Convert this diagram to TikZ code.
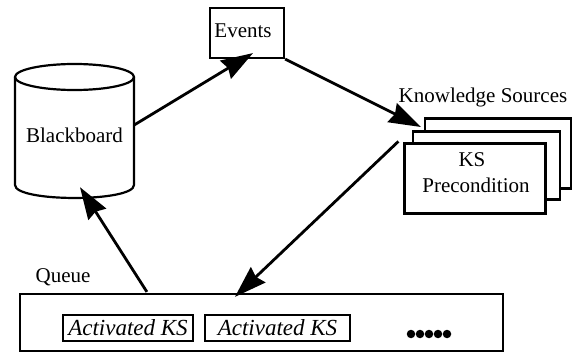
\documentclass[tikz,border=0pt]{standalone}
\usepackage{fontspec}
\setmainfont{Liberation Serif}
\usetikzlibrary{arrows.meta,calc}
\begin{document}
\begin{tikzpicture}[x=1pt,y=-1pt,
  txt/.style={inner sep=0pt, font=\fontsize{21}{23}\selectfont},
  boxline/.style={draw=black, line width=2.2pt},
  conn/.style={draw=black, line width=2.8pt, -{Stealth[length=32pt,width=21pt,inset=3pt]}},
  ksbox/.style={boxline, fill=white},
  actbox/.style={draw=black, line width=2pt, inner sep=0pt, minimum height=26pt,
    font=\fontsize{23}{24}\selectfont\itshape},
  dot/.style={circle, fill=black, inner sep=0pt, minimum size=8.5pt}
]
\useasboundingbox (0,0) rectangle (582,353);
\fill[white] (0,0) rectangle (582,353);

% Blackboard cylinder
\node[txt, minimum width=119pt, minimum height=134pt] (bb) at (74.5,131) {};
\draw[boxline] (15,77) -- (15,185) .. controls (15,202.3) and (134,202.3) .. (134,185) -- (134,77);
\draw[boxline] (74.5,77) ellipse [x radius=59.5, y radius=13];
\node[txt] (bbt) at (74.5,135) {Blackboard};

% Events
\node[boxline, minimum width=74pt, minimum height=50pt, inner sep=0pt] (ev) at (247,33) {};
\node[txt] (evt) at (243,31) {Events};

% Knowledge sources stack
\node[ksbox, minimum width=146pt, minimum height=70pt] (ks3) at (498,153.5) {};
\node[ksbox, minimum width=147pt, minimum height=68pt] (ks2) at (486.5,165.5) {};
\node[ksbox, minimum width=141pt, minimum height=70pt] (ks1) at (475,178.5) {};
\node[txt] (kst) at (472,160) {KS};
\node[txt] (kspre) at (476,185) {Precondition};
\node[txt] (kslab) at (483,97) {Knowledge Sources};

% Queue
\node[boxline, minimum width=483pt, minimum height=57pt, inner sep=0pt] (q) at (261.5,322.5) {};
\node[txt] (qlab) at (63,277) {Queue};
\node[actbox, minimum width=130pt] (a1) at (128,328) {Activated KS};
\node[actbox, minimum width=145pt] (a2) at (277.5,328) {Activated KS};
\foreach \i/\xx in {1/411,2/420,3/429,4/438,5/447}
  \node[dot] (d\i) at (\xx,334) {};

% Connectors
\draw[conn] ($(bb.east)+(0,-6)$) -- ($(ev.south)+(6,-6)$);
\draw[conn] (ev.south east) -- ($(ks3.west)+(-3,-26.5)$);
\draw[conn] ($(ks1.north west)+(-5,-1)$) -- ($(q.north west)+(216,4)$);
\draw[conn] ($(q.north west)+(128,-1)$) -- ($(bb.south)+(5.5,-11)$);
\end{tikzpicture}
\end{document}
